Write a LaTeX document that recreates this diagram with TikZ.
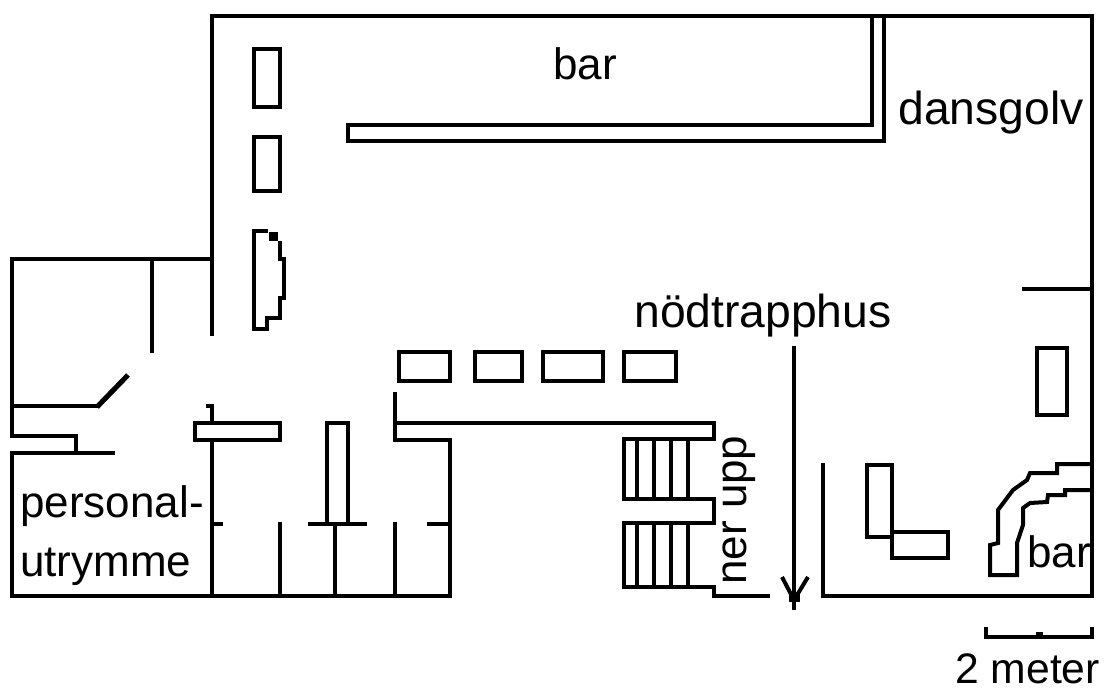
\documentclass[tikz,border=0pt]{standalone}
\usepackage{fontspec}
\setmainfont{Liberation Sans}
\tikzset{
  wall/.style={draw=black,line width=3pt,line cap=butt,miter limit=10},
  thin wall/.style={draw=black,line width=2.6pt,line cap=butt},
  blob/.style={fill=black,draw=none},
  label/.style={inner sep=0pt,anchor=base west,text=black,font=\fontsize{33}{36}\selectfont},
  wide label/.style={label,font=\fontsize{34.7}{38}\selectfont},
}
\begin{document}
\begin{tikzpicture}[x=0.75pt,y=-0.75pt]
\useasboundingbox (0,0) rectangle (1105,691);
% main outline
\draw[wall] (212,336) -- (212,16) -- (1092,16) -- (1092,596) -- (823,596) -- (823,463);
\draw[wall] (1022,289) -- (1092,289);
% long bar counter
\draw[wall] (872,16) -- (872,125) -- (348,125) -- (348,141) -- (884,141) -- (884,16);
% tables left
\draw[wall] (254,49) rectangle (280,107);
\draw[wall] (254,137.5) rectangle (280,191);
\draw[wall] (254,231) -- (268,231);
\fill[blob] (269,232) rectangle (278,241);
\draw[wall] (280,241) -- (280,259) -- (284,259) -- (284,298) -- (280,298) -- (280,318) -- (267,318) -- (267,329) -- (254,329) -- (254,229);
% left rooms
\draw[wall] (212,259) -- (12,259) -- (12,436) -- (76,436) -- (76,453);
\draw[wall] (152,259) -- (152,353);
\draw[wall] (12,406) -- (99,406);
\draw[wall,line width=3.8pt] (97,407) -- (128,375);
\draw[wall] (115,453) -- (12,453) -- (12,596) -- (450,596) -- (450,440) -- (395,440) -- (395,392);
\draw[wall] (206,406) -- (212,406) -- (212,423);
\draw[wall] (195,423) rectangle (280,440);
\draw[wall] (212,440) -- (212,596);
\draw[wall] (212,524) -- (223,524);
\draw[wall] (280,522) -- (280,596);
\draw[wall] (327,524) -- (327,423) -- (348,423) -- (348,524);
\draw[wall] (308,524) -- (367,524);
\draw[wall] (335,524) -- (335,596);
\draw[wall] (395,522) -- (395,596);
\draw[wall] (427,524) -- (450,524);
% tables middle
\draw[wall,line width=3.4pt] (399,352) rectangle (450,381);
\draw[wall,line width=3.4pt] (475,352) rectangle (522,381);
\draw[wall,line width=3.4pt] (543,352) rectangle (603,381);
\draw[wall,line width=3.4pt] (624,352) rectangle (676,381);
% stairs
\draw[wall] (395,423) -- (714,423) -- (714,439) -- (624,439) -- (624,499) -- (714,499) -- (714,523) -- (624,523) -- (624,587) -- (714,587) -- (714,596) -- (770,596);
\foreach \sx in {637,654,671,688} {
  \draw[thin wall] (\sx,439) -- (\sx,499);
  \draw[thin wall] (\sx,523) -- (\sx,587);
}
% arrow
\draw[wall] (794,346) -- (794,610);
\draw[wall] (782,577) -- (794,600) -- (808,577);
\fill[blob] (789,594) rectangle (800,602);
% L tables
\draw[wall] (867,465) rectangle (892,537);
\draw[wall] (892,532) rectangle (948,558);
\draw[wall] (1037,348) rectangle (1067,415);
% curved bar
\draw[wall] (1092,464) -- (1057,464) -- (1057,473) -- (1030,473) -- (1027,480) -- (1013,490) -- (1007,498) -- (998,510) -- (998,543) -- (990,545) -- (990,575) -- (1017,575) -- (1017,543) -- (1023,525) -- (1023,508) -- (1030,503) -- (1047,502) -- (1048,495) -- (1065,495) -- (1065,490) -- (1092,490);
% scale
\draw[wall] (986,627) -- (986,637) -- (1092,637) -- (1092,627);
\fill[blob] (1036,632) rectangle (1043,637);
% labels
\node[label] (lbar) at (553,80) {bar};
\node[wide label] (ldans) at (898,125) {dansgolv};
\node[wide label] (lnod) at (634,327) {nödtrapphus};
\node[label] (lpers) at (20,517) {personal-};
\node[label] (lutry) at (20,576) {utrymme};
\node[label] (lbar2) at (1027,567) {bar};
\node[label,font=\fontsize{32}{36}\selectfont] (lmeter) at (955,683) {2 meter};
\node[label,rotate=90] (lstair) at (746,585) {ner upp};
\end{tikzpicture}
\end{document}
